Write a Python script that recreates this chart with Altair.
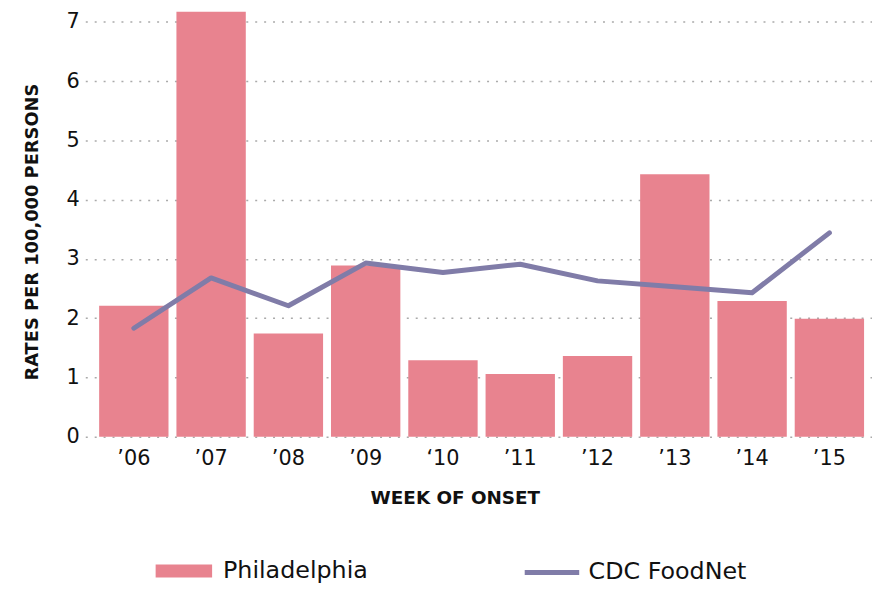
import altair as alt
import pandas as pd

years = ["\u201906", "\u201907", "\u201908", "\u201909", "\u201810", "\u201911", "\u201912", "\u201913", "\u201914", "\u201915"]
philadelphia = [2.21, 7.17, 1.74, 2.89, 1.29, 1.06, 1.36, 4.43, 2.29, 1.99]
foodnet = [1.83, 2.68, 2.21, 2.93, 2.77, 2.91, 2.63, 2.53, 2.43, 3.44]

df = pd.DataFrame({"year": years, "phl": philadelphia, "cdc": foodnet,
                   "s1": "Philadelphia", "s2": "CDC FoodNet"})

FONT = "DejaVu Sans"
BAR = "#e8838f"
LINE = "#807ca8"

x = alt.X("year:N", sort=years, title="WEEK OF ONSET",
          scale=alt.Scale(paddingInner=0.1026, paddingOuter=0.141, align=0.636),
          axis=alt.Axis(labelAngle=0, labelFontSize=21, labelFont=FONT, labelColor="#111",
                        labelPadding=11, ticks=False, domain=False,
                        titleFont=FONT, titleFontSize=18.5, titleFontWeight="bold", titleColor="#111",
                        titleX=373, titleY=67, titleBaseline="alphabetic", titleAlign="center"))

bars = alt.Chart(df).mark_bar().encode(
    x=x,
    y=alt.Y("phl:Q", title="RATES PER 100,000 PERSONS",
            scale=alt.Scale(domain=[0, 7.19], nice=False, zero=True),
            axis=alt.Axis(values=[0, 1, 2, 3, 4, 5, 6, 7], format="d", labelFontSize=21, labelFont=FONT,
                          labelColor="#111", labelPadding=6, ticks=False, domain=False,
                          grid=True, gridDash=[2, 7], gridColor="#aaa", gridWidth=1.5,
                          titleFont=FONT, titleFontSize=18, titleFontWeight="bold", titleColor="#111",
                          titleAngle=-90, titleX=-48, titleY=223, titleBaseline="alphabetic",
                          titleAlign="center")),
    color=alt.Color("s1:N", scale=alt.Scale(domain=["Philadelphia"], range=[BAR]),
                    legend=alt.Legend(title=None, orient="none", legendX=71, legendY=537,
                                      symbolType="M-1,-0.228H1V0.228H-1Z", symbolSize=3249,
                                      symbolStrokeWidth=0, labelFont=FONT, labelFontSize=24,
                                      labelColor="#111", labelOffset=11, labelLimit=400))
)

line = alt.Chart(df).mark_line(strokeWidth=5, strokeCap="round", strokeJoin="round").encode(
    x=alt.X("year:N", sort=years),
    y=alt.Y("cdc:Q"),
    stroke=alt.Stroke("s2:N", scale=alt.Scale(domain=["CDC FoodNet"], range=[LINE]),
                      legend=alt.Legend(title=None, orient="none", legendX=441, legendY=537,
                                        symbolType="stroke", symbolSize=3025, symbolStrokeWidth=5,
                                        labelFont=FONT, labelFontSize=24, labelColor="#111",
                                        labelOffset=7, labelLimit=400))
)

chart = alt.layer(bars, line).resolve_scale(color="independent").properties(
    width=794, height=430,
    background="white",
    autosize=alt.AutoSizeParams(type="none"),
    padding={"left": 78, "top": 0, "right": 0, "bottom": 147},
).configure_view(stroke=None)

chart.save("out.html", embed_options={"renderer": "svg", "actions": False})
